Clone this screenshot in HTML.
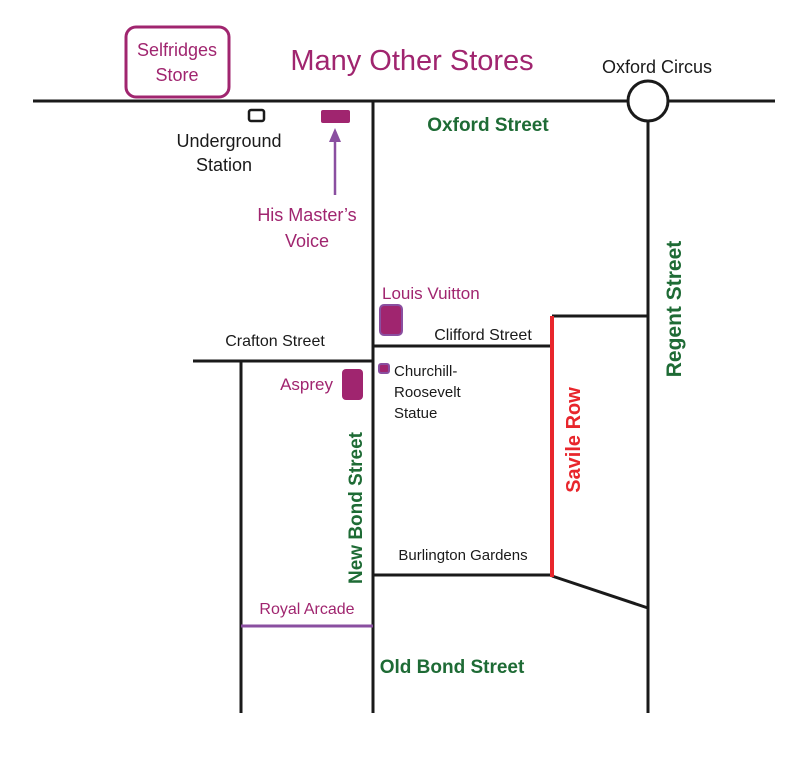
<!DOCTYPE html>
<html><head><style>body{margin:0;background:#fff}svg{display:block}</style></head><body>
<svg width="800" height="759" viewBox="0 0 800 759" xmlns="http://www.w3.org/2000/svg" font-family="Liberation Sans, sans-serif">
<g stroke="#1a1a1a" stroke-width="3" fill="none">
<line x1="33" y1="101" x2="628" y2="101"/><line x1="668" y1="101" x2="775" y2="101"/>
<circle cx="648" cy="101" r="20" fill="#fff"/>
<line x1="648" y1="121" x2="648" y2="713"/>
<line x1="373" y1="101" x2="373" y2="713"/>
<line x1="241" y1="361" x2="241" y2="713"/>
<line x1="193" y1="361" x2="373" y2="361"/>
<line x1="373" y1="346" x2="552" y2="346"/>
<line x1="552" y1="316" x2="648" y2="316"/>
<line x1="373" y1="575" x2="552" y2="575"/>
<line x1="552" y1="576" x2="648" y2="608"/>
<rect x="249" y="110" width="15" height="11" rx="2" stroke-width="2.5"/>
</g>
<line x1="552" y1="316" x2="552" y2="577" stroke="#e8262c" stroke-width="4"/>
<line x1="241" y1="626" x2="373" y2="626" stroke="#8a4fa0" stroke-width="3"/>
<rect x="126" y="27" width="103" height="70" rx="10" fill="none" stroke="#a0256f" stroke-width="3"/>
<rect x="321" y="110" width="29" height="13" rx="2" fill="#a0256f"/>
<line x1="335" y1="195" x2="335" y2="136" stroke="#8a4fa0" stroke-width="2.5"/>
<polygon points="335,128 329,142 341,142" fill="#8a4fa0"/>
<rect x="380" y="305" width="22" height="30" rx="4" fill="#a0256f" stroke="#8a4fa0" stroke-width="2"/>
<rect x="342" y="369" width="21" height="31" rx="4" fill="#a0256f"/>
<rect x="379" y="364" width="10" height="9" rx="2" fill="#a0256f" stroke="#8a4fa0" stroke-width="2"/>
<g fill="#a0256f">
<text x="177" y="56" font-size="18" text-anchor="middle">Selfridges</text>
<text x="177" y="81" font-size="18" text-anchor="middle">Store</text>
<text x="412" y="70" font-size="29" text-anchor="middle">Many Other Stores</text>
<text x="307" y="221" font-size="18" text-anchor="middle">His Master’s</text>
<text x="307" y="247" font-size="18" text-anchor="middle">Voice</text>
<text x="382" y="299" font-size="17">Louis Vuitton</text>
<text x="333" y="390" font-size="17" text-anchor="end">Asprey</text>
<text x="307" y="614" font-size="16" text-anchor="middle">Royal Arcade</text>
</g>
<g fill="#1a1a1a">
<text x="657" y="73" font-size="18" text-anchor="middle">Oxford Circus</text>
<text x="229" y="147" font-size="18" text-anchor="middle">Underground</text>
<text x="224" y="171" font-size="18" text-anchor="middle">Station</text>
<text x="275" y="346" font-size="16" text-anchor="middle">Crafton Street</text>
<text x="483" y="340" font-size="16" text-anchor="middle">Clifford Street</text>
<text x="394" y="376" font-size="15">Churchill-</text>
<text x="394" y="397" font-size="15">Roosevelt</text>
<text x="394" y="418" font-size="15">Statue</text>
<text x="463" y="560" font-size="15" text-anchor="middle">Burlington Gardens</text>
</g>
<g fill="#1e6b35" font-weight="bold" font-size="19">
<text x="488" y="131" text-anchor="middle">Oxford Street</text>
<text x="452" y="673" text-anchor="middle">Old Bond Street</text>
<text transform="translate(681,309) rotate(-90)" text-anchor="middle" font-size="21">Regent Street</text>
<text transform="translate(362,508) rotate(-90)" text-anchor="middle">New Bond Street</text>
</g>
<text transform="translate(580,440) rotate(-90)" text-anchor="middle" fill="#e8262c" font-weight="bold" font-size="20">Savile Row</text>
</svg>
</body></html>
